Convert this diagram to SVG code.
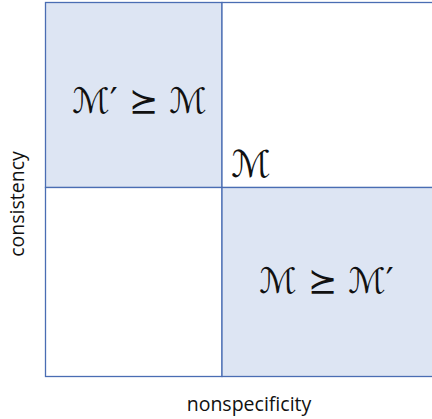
<svg xmlns="http://www.w3.org/2000/svg" width="432" height="419" viewBox="0 0 432 419">
<style>
.cell{stroke:#4a6db3;stroke-width:1.3}
.shade{fill:#dde5f3}
.blank{fill:#ffffff}
.math{font-family:"DejaVu Serif","DejaVu Sans",serif;font-size:35px;fill:#111}
.axis{font-family:"Open Sans","Liberation Sans",sans-serif;font-size:19.5px;fill:#111}
</style>
<rect width="432" height="419" fill="#ffffff"/>
<g id="cell-top-left">
<rect class="cell shade" x="45.5" y="2.5" width="176.5" height="185"/>
<text class="math" x="139.5" y="113" text-anchor="middle">ℳ′ ⪰ ℳ</text>
</g>
<g id="cell-top-right">
<rect class="cell blank" x="222" y="2.5" width="214" height="185"/>
<text class="math" x="251" y="177" text-anchor="middle" style="font-size:37px">ℳ</text>
</g>
<g id="cell-bottom-left">
<rect class="cell blank" x="45.5" y="187.5" width="176.5" height="189"/>
</g>
<g id="cell-bottom-right">
<rect class="cell shade" x="222" y="187.5" width="214" height="189"/>
<text class="math" x="326.5" y="293" text-anchor="middle">ℳ ⪰ ℳ′</text>
</g>
<g id="axis-labels">
<text class="axis" x="249" y="411" text-anchor="middle">nonspecificity</text>
<text class="axis" transform="translate(24,204) rotate(-90)" text-anchor="middle">consistency</text>
</g>
</svg>
